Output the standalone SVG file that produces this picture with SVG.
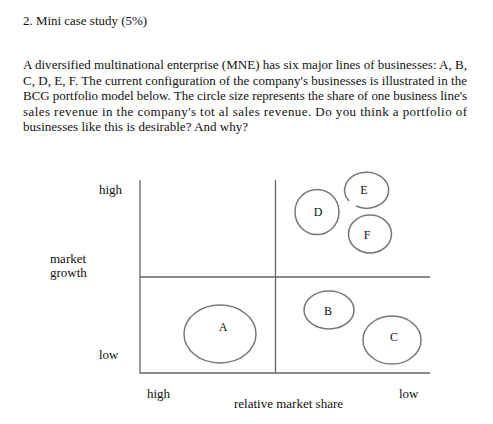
<svg xmlns="http://www.w3.org/2000/svg" width="493" height="424" viewBox="0 0 493 424">
<style>
text{font-family:"Liberation Serif","Times New Roman",serif;fill:#111}
.p{font-size:13px}
.l{font-size:13px}
.c{font-size:12px;text-anchor:middle}
.ax{stroke:#666;stroke-width:1.3;fill:none}
.ci{stroke:#777;stroke-width:1.5;fill:none}
</style>
<rect width="493" height="424" fill="#fff"/>
<g id="text">
<text class="p" x="23" y="25" textLength="124" lengthAdjust="spacingAndGlyphs">2. Mini case study (5%)</text>
<text class="p" x="23" y="69" textLength="444" lengthAdjust="spacing">A diversified multinational enterprise (MNE) has six major lines of businesses: A, B,</text>
<text class="p" x="23" y="85" textLength="444" lengthAdjust="spacing">C, D, E, F. The current configuration of the company's businesses is illustrated in the</text>
<text class="p" x="23" y="100" textLength="444" lengthAdjust="spacing">BCG portfolio model below. The circle size represents the share of one business line's</text>
<text class="p" x="23" y="116" textLength="444" lengthAdjust="spacing">sales revenue in the company's tot al sales revenue. Do you think a portfolio of</text>
<text class="p" x="23" y="131" textLength="225" lengthAdjust="spacing">businesses like this is desirable? And why?</text>
</g>
<g id="axes">
<path class="ax" d="M140 180V373H430M275.5 180V373M140 277H430"/>
</g>
<g id="labels">
<text class="l" x="99" y="194">high</text>
<text class="l" x="50" y="263">market</text>
<text class="l" x="50" y="277">growth</text>
<text class="l" x="99" y="359">low</text>
<text class="l" x="147" y="398">high</text>
<text class="l" x="234" y="408">relative market share</text>
<text class="l" x="399" y="398">low</text>
</g>
<g id="node-A"><ellipse class="ci" cx="220" cy="334" rx="36" ry="29"/><text class="c" x="223" y="331">A</text></g>
<g id="node-B"><ellipse class="ci" cx="329" cy="310" rx="25" ry="19"/><text class="c" x="328" y="315">B</text></g>
<g id="node-C"><ellipse class="ci" cx="392" cy="340" rx="29" ry="24"/><text class="c" x="394" y="341">C</text></g>
<g id="node-D"><ellipse class="ci" cx="317" cy="212" rx="22" ry="22.5"/><text class="c" x="318" y="216">D</text></g>
<g id="node-E"><path class="ci" d="M349 201A22 18 0 1 1 356 206"/><text class="c" x="364" y="194">E</text></g>
<g id="node-F"><ellipse class="ci" cx="370" cy="234" rx="21.5" ry="19"/><text class="c" x="367" y="239">F</text></g>
</svg>
